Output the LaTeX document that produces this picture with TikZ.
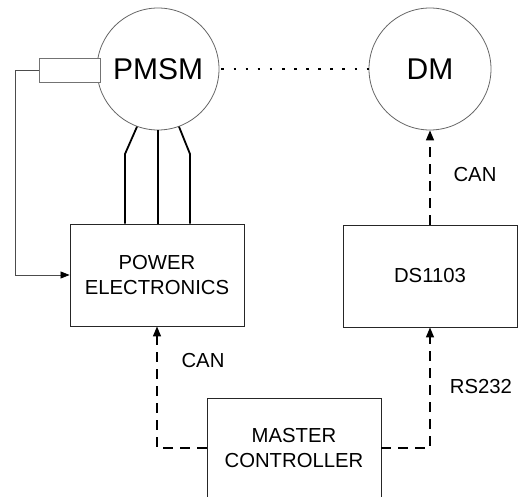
\documentclass[tikz,border=0pt]{standalone}
\usepackage{fontspec}
\setmainfont{Liberation Sans}
\usetikzlibrary{arrows.meta}
\begin{document}
\begin{tikzpicture}[x=1pt,y=-1pt,
  motor/.style={circle,draw=black!60,line width=0.8pt,minimum size=122pt,inner sep=0pt,font=\fontsize{30}{34}\selectfont},
  blockbox/.style={draw=black!85,line width=0.9pt,minimum width=174pt,minimum height=102pt,inner sep=0pt,align=center,font=\fontsize{20.3}{24.5}\selectfont},
  encbox/.style={draw=black!55,line width=0.9pt,fill=white,minimum width=61pt,minimum height=24pt,inner sep=0pt},
  wire/.style={line width=1.8pt},
  fb/.style={draw=black!70,line width=0.8pt,-{Triangle[length=9pt,width=7pt,color=black]}},
  bus/.style={line width=1.4pt,dash pattern=on 10pt off 7pt,-{Triangle[length=10pt,width=8pt]}},
  lbl/.style={font=\fontsize{20.3}{24}\selectfont,inner sep=0pt},
  mech/.style={line width=2.6pt,dash pattern=on 2.6pt off 9.5pt}]
\clip (0,0) rectangle (519,497);
\fill[white] (0,0) rectangle (519,497);
\node[motor] (pmsm) at (158,69) {PMSM};
\node[motor] (dm) at (430,69) {DM};
\node[encbox] (enc) at (69.5,70) {};
\node[blockbox] (pe) at (157,275) {POWER\\ELECTRONICS};
\node[blockbox] (ds) at (430,276) {DS1103};
\node[blockbox,minimum height=100pt] (mc) at (294,448) {MASTER\\CONTROLLER};
% mechanical coupling
\draw[mech] (pmsm.east) ++(2,0) -- (dm.west);
% three-phase wires
\draw[wire] (pmsm.250) -- (125,154) -- (125,154 |- pe.north);
\draw[wire] (pmsm.south) -- (pmsm.south |- pe.north);
\draw[wire] (pmsm.290) -- (190,154) -- (190,154 |- pe.north);
% encoder feedback
\draw[fb] (enc.west) -- ++(-23.5,0) |- (pe.west);
% communication
\draw[bus] (ds.north) -- (dm.south);
\draw[bus] (mc.west) -| (pe.south);
\draw[bus] (mc.east) -| (ds.south);
\node[lbl] (l1) at (475,175) {CAN};
\node[lbl] (l2) at (203,361) {CAN};
\node[lbl] (l3) at (481,387) {RS232};
\end{tikzpicture}
\end{document}
